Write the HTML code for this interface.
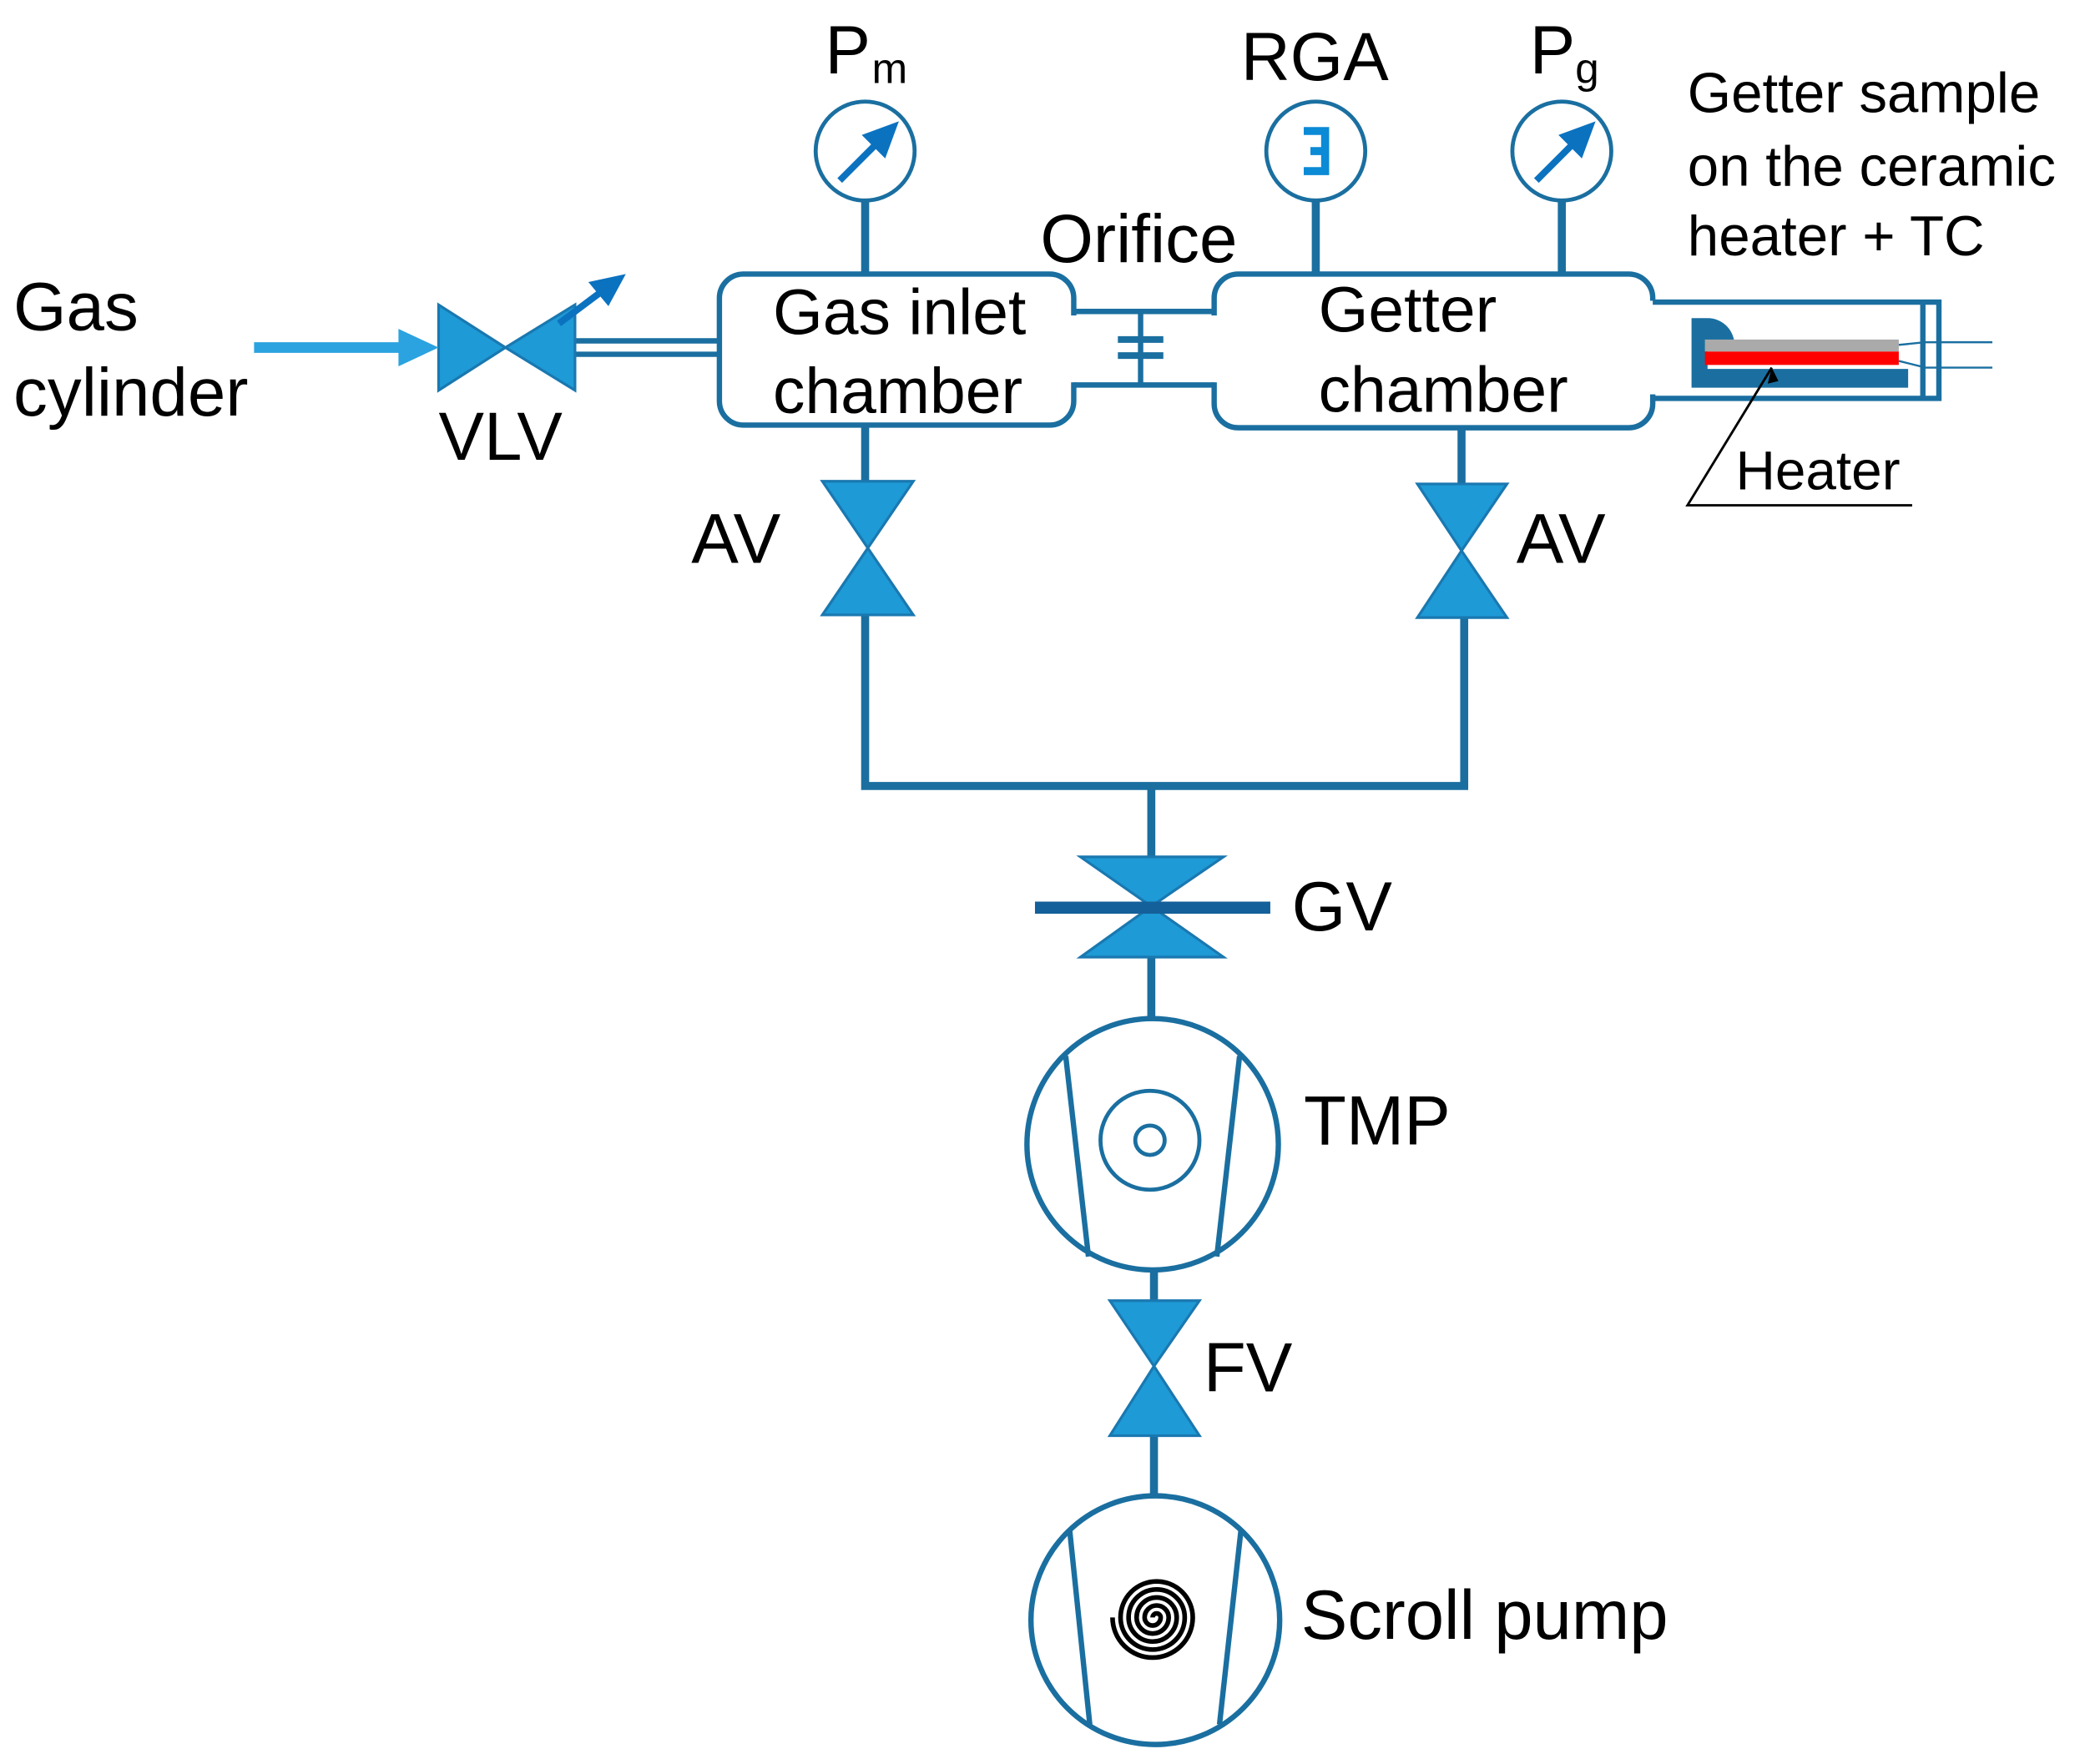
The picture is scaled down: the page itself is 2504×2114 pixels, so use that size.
<!DOCTYPE html>
<html><head><meta charset="utf-8"><style>
html,body{margin:0;padding:0;background:#fff;}
svg{display:block;}
text{font-family:"Liberation Sans",sans-serif;fill:#000;}
</style></head><body>
<svg width="2504" height="2114" viewBox="0 0 1563 1319.6" preserveAspectRatio="none" xmlns="http://www.w3.org/2000/svg">
<g stroke="#1a6fa0" stroke-width="4" fill="none">
  <circle cx="647" cy="113" r="37" stroke-width="3"/>
  <circle cx="984" cy="113" r="37" stroke-width="3"/>
  <circle cx="1168" cy="113" r="37" stroke-width="3"/>
  <line x1="647" y1="150" x2="647" y2="205" stroke-width="6"/>
  <line x1="984" y1="150" x2="984" y2="205" stroke-width="6"/>
  <line x1="1168" y1="150" x2="1168" y2="205" stroke-width="6"/>
  <rect x="538" y="205" width="265" height="113" rx="18"/>
  <rect x="908" y="205" width="328" height="115" rx="18"/>
</g>
<rect x="798" y="236" width="14" height="50" fill="#fff"/>
<rect x="900" y="236" width="14" height="50" fill="#fff"/>
<rect x="1230" y="225" width="12" height="70" fill="#fff"/>
<g stroke="#1a6fa0" stroke-width="4" fill="none">
  <path d="M803 233 H908 M803 288 H908"/>
  <line x1="853" y1="233" x2="853" y2="288"/>
  <line x1="836" y1="254" x2="870" y2="254" stroke-width="5"/>
  <line x1="836" y1="266" x2="870" y2="266" stroke-width="5"/>
  <path d="M1236 226 H1450 V298 H1236"/>
  <line x1="1438" y1="226" x2="1438" y2="298"/>
  <path d="M430 255 H538 M430 265 H538"/>
  <line x1="647" y1="318" x2="647" y2="362" stroke-width="6"/>
  <line x1="1093" y1="320" x2="1093" y2="362" stroke-width="6"/>
  <path d="M647 460 V588 H1095 V462" stroke-width="6"/>
  <line x1="861" y1="588" x2="861" y2="642" stroke-width="6"/>
  <line x1="861" y1="716" x2="861" y2="763" stroke-width="6"/>
  <line x1="863" y1="950" x2="863" y2="974" stroke-width="6"/>
  <line x1="863" y1="1074" x2="863" y2="1119" stroke-width="6"/>
  <circle cx="862" cy="856" r="94"/>
  <line x1="797" y1="790" x2="814" y2="940"/>
  <line x1="927" y1="790" x2="910" y2="940"/>
  <circle cx="860" cy="853" r="37" stroke-width="3"/>
  <circle cx="860" cy="853" r="11" stroke-width="3"/>
  <circle cx="864" cy="1212" r="93"/>
  <line x1="800" y1="1145" x2="815" y2="1290"/>
  <line x1="928" y1="1145" x2="912" y2="1290"/>
</g>
<path d="M1265 238 h12 a20 20 0 0 1 20 18 h-20 v20 h150 v14 h-162 z" fill="#1a6fa0"/>
<rect x="1275" y="254" width="145" height="9" fill="#aaa"/>
<rect x="1275" y="263" width="145" height="10" fill="#f00"/>
<path d="M1420 258 L1440 256 H1490 M1420 270 L1440 275 H1490" stroke="#1a6fa0" stroke-width="1.5" fill="none"/>
<path d="M1325 275 L1262 378 H1430" stroke="#000" stroke-width="1.8" fill="none"/>
<path d="M1325 275 l-3 12 l8 -2 z" fill="#000"/>
<g stroke="#0b72c0" stroke-width="5" fill="#0b72c0">
  <line x1="628" y1="135" x2="657" y2="106"/><path d="M668 95 L649 102 L661 114 Z"/>
  <line x1="1149" y1="135" x2="1178" y2="106"/><path d="M1189 95 L1170 102 L1182 114 Z"/>
</g>
<path d="M975 98 h16 v30 h-16 M980 113 h11" stroke="#0b8ad6" stroke-width="6" fill="none"/>
<g fill="#1e9ad6" stroke="#1a78b0" stroke-width="2">
  <path d="M328 228 L328 292 L378 260 Z"/>
  <path d="M430 228 L430 292 L378 260 Z"/>
  <path d="M615 360 H683 L649 410 Z M649 410 L615 460 H683 Z"/>
  <path d="M1060 362 H1127 L1093 412 Z M1093 412 L1060 462 H1127 Z"/>
  <path d="M808 641 H915 L861 678 Z M861 678 L808 716 H915 Z"/>
  <path d="M830 973 H897 L863 1022 Z M863 1022 L830 1074 H897 Z"/>
</g>
<line x1="774" y1="679" x2="950" y2="679" stroke="#14609a" stroke-width="9"/>
<line x1="418" y1="242" x2="450" y2="218" stroke="#0b72c0" stroke-width="5"/>
<path d="M468 205 L440 211 L455 229 Z" fill="#0b72c0"/>
<line x1="190" y1="260" x2="302" y2="260" stroke="#2ba3e0" stroke-width="8"/>
<path d="M298 246 L328 260 L298 274 Z" fill="#2ba3e0"/>
<path d="M862 1210 m0 0 a3 3 0 0 1 6 0 a6 6 0 0 1 -12 0 a9 9 0 0 1 18 0 a12 12 0 0 1 -24 0 a15 15 0 0 1 30 0 a18 18 0 0 1 -36 0 a21 21 0 0 1 42 0 a24 24 0 0 1 -48 0 a27 27 0 0 1 54 0 a30 30 0 0 1 -60 0" stroke="#000" stroke-width="3.5" fill="none"/>
<g font-size="51">
  <text x="10" y="247">Gas</text>
  <text x="10" y="311">cylinder</text>
  <text x="328" y="344">VLV</text>
  <text x="617" y="55">P</text><text x="652" y="62" font-size="32">m</text>
  <text x="928" y="60">RGA</text>
  <text x="1144" y="55">P</text><text x="1178" y="62" font-size="32">g</text>
  <text x="778" y="196">Orifice</text>
  <text x="578" y="250" font-size="48">Gas inlet</text>
  <text x="578" y="309" font-size="48">chamber</text>
  <text x="986" y="248" font-size="48">Getter</text>
  <text x="986" y="308" font-size="48">chamber</text>
  <text x="517" y="421" font-size="53">AV</text>
  <text x="1134" y="421" font-size="53">AV</text>
  <text x="966" y="696" font-size="52">GV</text>
  <text x="975" y="856" font-size="52">TMP</text>
  <text x="900" y="1041" font-size="52">FV</text>
  <text x="973" y="1226" font-size="52">Scroll pump</text>
</g>
<g font-size="42">
  <text x="1262" y="84">Getter sample</text>
  <text x="1262" y="139">on the ceramic</text>
  <text x="1262" y="191">heater + TC</text>
  <text x="1298" y="366" font-size="41">Heater</text>
</g>
</svg>
</body></html>
